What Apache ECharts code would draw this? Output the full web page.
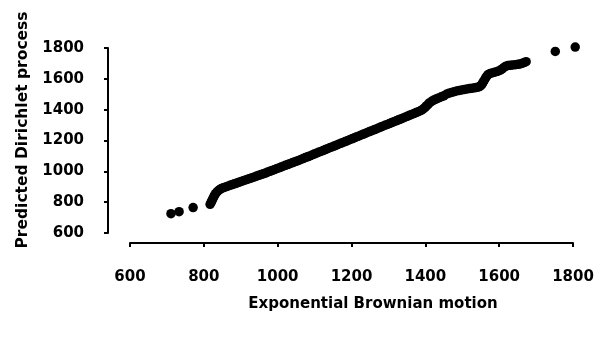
<!DOCTYPE html>
<html>
<head>
<meta charset="utf-8">
<script src="https://cdn.jsdelivr.net/npm/echarts@6/dist/echarts.min.js"></script>
<style>
  html, body { margin: 0; padding: 0; background: #fff; }
  #chart { width: 601px; height: 343px; }
</style>
</head>
<body>
<div id="chart"></div>
<script>
// Axis ticks
const xTicks = [600, 800, 1000, 1200, 1400, 1600, 1800];
const yTicks = [600, 800, 1000, 1200, 1400, 1600, 1800];

// Paired quantiles: exponential Brownian motion (x) vs. predicted Dirichlet process (y)
const brownian = [
  711, 733, 771, 817, 819, 821, 823, 825, 827, 829,
  832, 835, 839, 843, 848, 853, 859, 865, 871, 877,
  883, 889, 895, 901, 907, 913, 919, 925, 931, 937,
  943, 949, 955, 961, 967, 973, 979, 985, 991, 997,
  1003, 1009, 1015, 1021, 1027, 1033, 1039, 1045, 1051, 1057,
  1063, 1069, 1075, 1081, 1087, 1093, 1099, 1105, 1111, 1117,
  1123, 1129, 1135, 1141, 1147, 1153, 1159, 1165, 1171, 1177,
  1183, 1189, 1195, 1201, 1207, 1213, 1219, 1225, 1231, 1237,
  1243, 1249, 1255, 1261, 1267, 1273, 1279, 1285, 1291, 1297,
  1303, 1309, 1315, 1321, 1327, 1333, 1339, 1345, 1351, 1357,
  1363, 1369, 1375, 1381, 1387, 1392, 1396, 1400, 1404, 1408,
  1412, 1417, 1423, 1429, 1436, 1443, 1450, 1457, 1464, 1471,
  1478, 1485, 1492, 1499, 1506, 1513, 1520, 1527, 1534, 1541,
  1547, 1551, 1554, 1557, 1560, 1563, 1566, 1570, 1576, 1583,
  1590, 1597, 1603, 1608, 1613, 1618, 1624, 1630, 1637, 1644,
  1651, 1657, 1663, 1668, 1673, 1752, 1806
];
const dirichlet = [
  725, 738, 765, 786, 795, 805, 815, 825, 835, 845,
  855, 865, 874, 882, 889, 894, 899, 904, 909, 914,
  919, 924, 929, 934, 939, 944, 949, 954, 959, 964,
  969, 974, 979, 984, 989, 995, 1000, 1006, 1011, 1017,
  1022, 1028, 1033, 1039, 1044, 1050, 1055, 1061, 1066, 1071,
  1077, 1083, 1089, 1094, 1100, 1106, 1112, 1118, 1124, 1129,
  1135, 1141, 1147, 1153, 1158, 1164, 1170, 1176, 1182, 1187,
  1193, 1199, 1205, 1211, 1217, 1223, 1228, 1234, 1240, 1246,
  1252, 1258, 1264, 1269, 1275, 1281, 1287, 1293, 1299, 1304,
  1310, 1316, 1322, 1328, 1334, 1339, 1345, 1351, 1357, 1363,
  1369, 1375, 1381, 1387, 1393, 1400, 1408, 1417, 1426, 1436,
  1445, 1454, 1462, 1469, 1476, 1483, 1490, 1500, 1507, 1512,
  1517, 1521, 1525, 1528, 1531, 1534, 1537, 1539, 1542, 1545,
  1550, 1558, 1568, 1580, 1592, 1604, 1616, 1628, 1635, 1640,
  1645, 1650, 1656, 1664, 1674, 1682, 1686, 1688, 1690, 1692,
  1694, 1697, 1701, 1706, 1711, 1778, 1806
];

const xTitle = 'Exponential Brownian motion';
const yTitle = 'Predicted Dirichlet process';

const FONT = 'DejaVu Sans';
const labelStyle = {
  color: '#000', fontFamily: FONT, fontWeight: 'bold', fontSize: 15,
  formatter: v => String(v)
};
const lineStyle = { color: '#000', width: 2 };

const chart = echarts.init(document.getElementById('chart'), null, { renderer: 'canvas' });
chart.setOption({
  animation: false,
  backgroundColor: '#fff',
  grid: { left: 130, right: 28, top: 48, bottom: 110, containLabel: false },
  xAxis: {
    type: 'value',
    min: xTicks[0], max: xTicks[xTicks.length - 1], interval: xTicks[1] - xTicks[0],
    offset: 10,
    axisLine: { show: true, onZero: false, lineStyle: lineStyle },
    axisTick: { show: true, inside: false, length: 4, lineStyle: lineStyle },
    axisLabel: Object.assign({ margin: 27 }, labelStyle),
    splitLine: { show: false }
  },
  yAxis: {
    type: 'value',
    min: yTicks[0], max: yTicks[yTicks.length - 1], interval: yTicks[1] - yTicks[0],
    offset: 22,
    axisLine: { show: true, onZero: false, lineStyle: lineStyle },
    axisTick: { show: true, inside: false, length: 4, lineStyle: lineStyle },
    axisLabel: Object.assign({ margin: 24 }, labelStyle),
    splitLine: { show: false }
  },
  graphic: [
    {
      type: 'text', x: 373, y: 304,
      style: { text: xTitle, align: 'center', verticalAlign: 'middle', fill: '#000',
        font: 'bold 15px "' + FONT + '"' }
    },
    {
      type: 'text', x: 23, y: 130, rotation: Math.PI / 2,
      style: { text: yTitle, align: 'center', verticalAlign: 'middle', fill: '#000',
        font: 'bold 15.5px "' + FONT + '"' }
    }
  ],
  series: [{
    type: 'scatter',
    clip: false,
    symbol: 'circle',
    symbolSize: 9.5,
    itemStyle: { color: '#000', opacity: 1 },
    data: brownian.map((x, i) => [x, dirichlet[i]])
  }]
});
</script>
</body>
</html>
